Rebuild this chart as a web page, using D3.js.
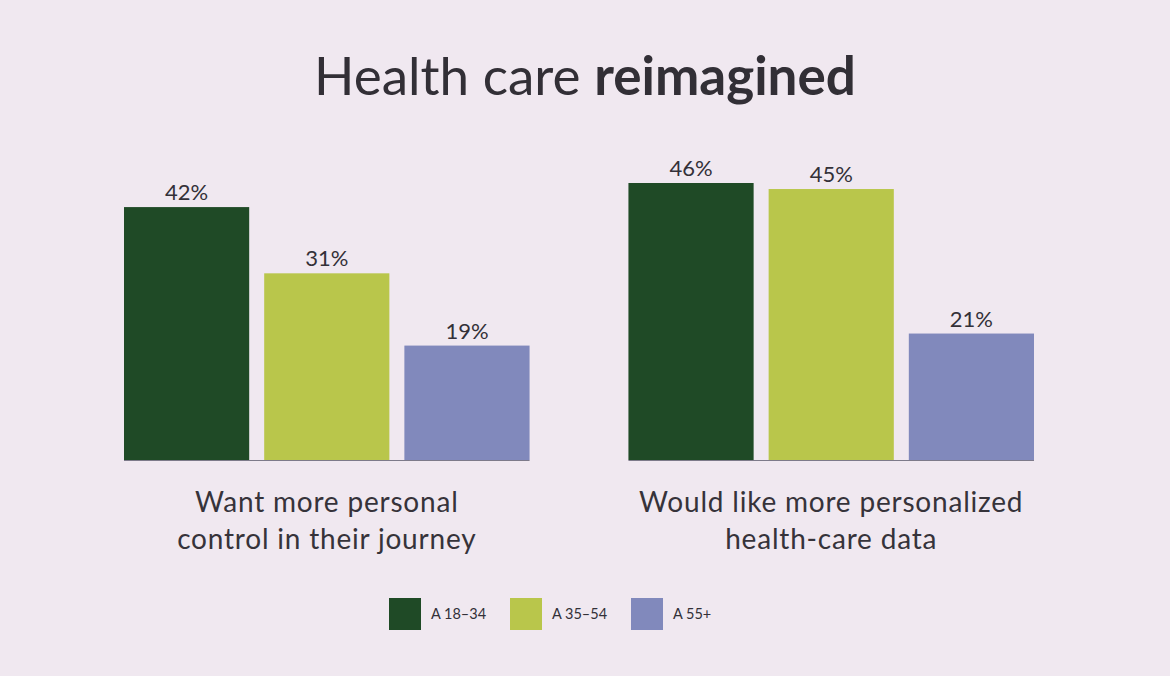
<!DOCTYPE html>
<html>
<head>
<meta charset="utf-8">
<script src="https://cdn.jsdelivr.net/npm/d3@7"></script>
<style>
  html, body { margin: 0; padding: 0; background: #f0e8f0; }
  svg { display: block; }
  text { font-family: "Lato", "Noto Sans", sans-serif; }
</style>
</head>
<body>
<svg id="chart" width="1170" height="676"></svg>
<script>
const categories = [
  ["Want more personal", "control in their journey"],
  ["Would like more personalized", "health-care data"]
];
const categoryKeys = ["control", "data"];
const seriesNames = ["A 18–34", "A 35–54", "A 55+"];
const seriesColors = ["#1f4a26", "#b9c64b", "#8189bc"];
const values18_34 = [42, 46];
const values35_54 = [31, 45];
const values55plus = [19, 21];
const seriesValues = [values18_34, values35_54, values55plus];

const svg = d3.select("#chart");
const W = 1170, H = 676;

svg.append("rect").attr("width", W).attr("height", H).attr("fill", "#f0e8f0");

// Title
const title = svg.append("text")
  .attr("x", 585).attr("y", 95)
  .attr("text-anchor", "middle")
  .attr("font-size", 53)
  .attr("fill", "#322f36");
title.append("tspan").attr("font-weight", 400).text("Health care ");
title.append("tspan").attr("font-weight", 700).text("reimagined");

const baseY = 460;
const x0 = d3.scaleBand().domain(categoryKeys).range([124, 1034]).paddingInner(0.196).paddingOuter(0);
const x1 = d3.scaleBand().domain(seriesNames).range([0, x0.bandwidth()]).paddingInner(0.107).paddingOuter(0);
const y = d3.scaleLinear().domain([0, 46]).range([baseY, 183]);

const groups = svg.selectAll("g.group")
  .data(categoryKeys)
  .join("g")
  .attr("class", "group")
  .attr("transform", d => `translate(${x0(d)},0)`);

groups.each(function(key, gi) {
  const g = d3.select(this);
  const data = seriesNames.map((s, si) => ({ s, v: seriesValues[si][gi], c: seriesColors[si] }));
  g.selectAll("rect.bar")
    .data(data)
    .join("rect")
    .attr("class", "bar")
    .attr("x", d => x1(d.s))
    .attr("y", d => y(d.v))
    .attr("width", x1.bandwidth())
    .attr("height", d => y(0) - y(d.v))
    .attr("fill", d => d.c);
  g.selectAll("text.val")
    .data(data)
    .join("text")
    .attr("class", "val")
    .attr("x", d => x1(d.s) + x1.bandwidth() / 2)
    .attr("y", d => y(d.v) - 7)
    .attr("text-anchor", "middle")
    .attr("font-size", 22)
    .attr("fill", "#333038")
    .text(d => d.v + "%");
  // baseline
  g.append("line")
    .attr("x1", 0).attr("x2", x0.bandwidth())
    .attr("y1", baseY + 0.5).attr("y2", baseY + 0.5)
    .attr("stroke", "#7d7a8a").attr("stroke-width", 1.2);
  // category label
  const lab = g.append("text")
    .attr("x", x0.bandwidth() / 2)
    .attr("y", 512)
    .attr("text-anchor", "middle")
    .attr("font-size", 28)
    .attr("letter-spacing", 0.8)
    .attr("fill", "#36333a");
  categories[gi].forEach((line, li) => {
    lab.append("tspan").attr("x", x0.bandwidth() / 2).attr("dy", li === 0 ? 0 : 37).text(line);
  });
});

// Legend
const legendX = d3.scaleOrdinal().domain(seriesNames).range([389, 510, 631]);
const leg = svg.selectAll("g.leg")
  .data(seriesNames)
  .join("g")
  .attr("class", "leg")
  .attr("transform", d => `translate(${legendX(d)},598)`);
leg.append("rect").attr("width", 32).attr("height", 32).attr("fill", (d, i) => seriesColors[i]);
leg.append("text").attr("x", 42).attr("y", 21).attr("font-size", 14.5).attr("fill", "#333038").text(d => d);
</script>
</body>
</html>
